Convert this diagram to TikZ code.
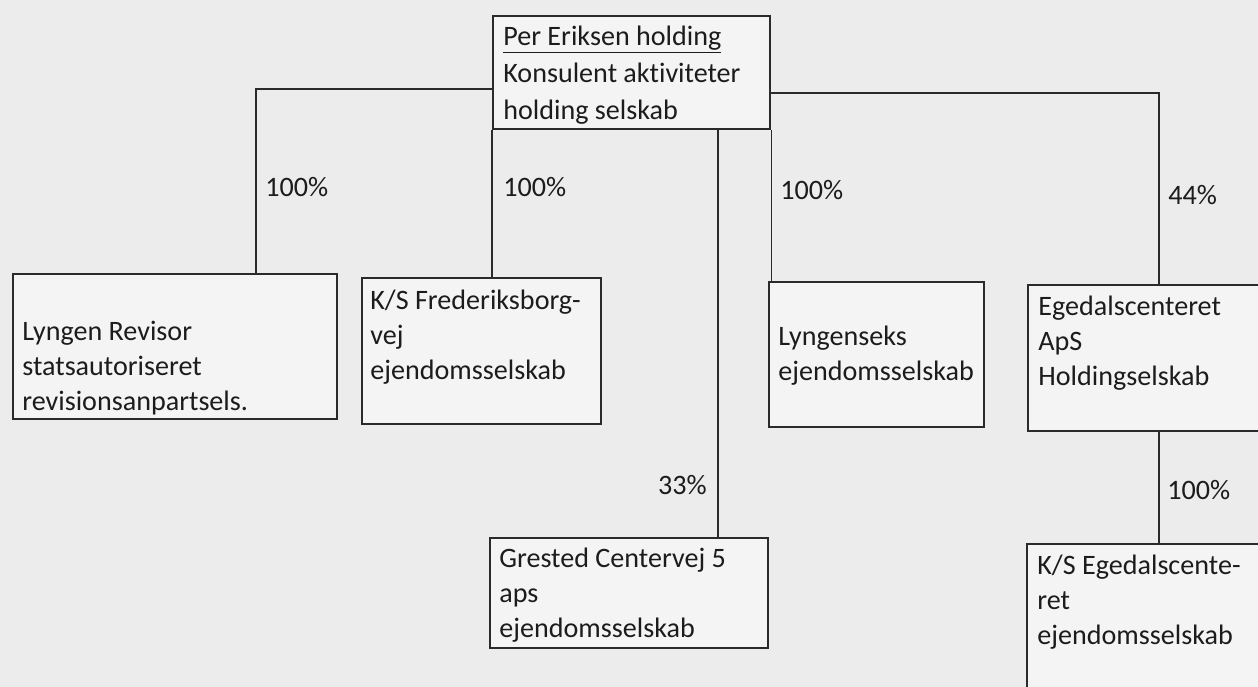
\documentclass[tikz,border=0pt]{standalone}
\usepackage{fontspec}
\setmainfont{Carlito}[Ligatures=NoCommon]
\usepackage{tikz}
\usetikzlibrary{positioning,calc}
\definecolor{paper}{RGB}{236,236,236}
\definecolor{boxfill}{RGB}{244,244,244}
\definecolor{inkline}{RGB}{42,42,42}
\definecolor{inkc}{RGB}{28,28,28}

\begin{document}
\begin{tikzpicture}[
  firm/.style={draw=inkline, fill=boxfill, line width=1.4pt, anchor=north west, inner sep=0pt},
  ftext/.style={anchor=west, align=left, text=inkc, inner sep=0pt, font=\fontsize{16}{20}\selectfont},
  pct/.style={anchor=west, text=inkc, inner sep=0pt, font=\fontsize{16}{20}\selectfont},
  link/.style={draw=inkline, line width=0.8pt},
]
\useasboundingbox (0,0) rectangle (25.16,-13.74);
\clip (0,0) rectangle (25.16,-13.74);
\fill[paper] (0,0) rectangle (25.16,-13.74);

% ============ owner ============
\node[firm, minimum width=5.54cm, minimum height=2.26cm] (per) at (9.84,-0.30) {};
\node[ftext, font=\fontsize{16}{21}\selectfont] (per-txt) at (10.06,-1.50)
  {\underline{Per Eriksen holding}\\Konsulent aktiviteter\\holding selskab};

% ============ companies ============
\node[firm, minimum width=6.48cm, minimum height=2.90cm] (lyngen) at (0.24,-5.46) {};
\node[ftext] (lyngen-txt) at (0.44,-7.36) {Lyngen Revisor\\statsautoriseret\\revisionsanpartsels.};

\node[firm, minimum width=4.78cm, minimum height=2.92cm] (fred) at (7.22,-5.54) {};
\node[ftext] (fred-txt) at (7.40,-6.74) {K/S Frederiksborg-\\vej\\ejendomsselskab};

\node[firm, minimum width=5.56cm, minimum height=2.20cm] (grested) at (9.78,-10.74) {};
\node[ftext] (grested-txt) at (9.98,-11.90) {Grested Centervej 5\\aps\\ejendomsselskab};

\node[firm, minimum width=4.30cm, minimum height=2.90cm] (lyngseks) at (15.36,-5.62) {};
\node[ftext] (lyngseks-txt) at (15.56,-7.12) {Lyngenseks\\ejendomsselskab};

\node[firm, minimum width=5.20cm, minimum height=2.92cm] (ege) at (20.54,-5.68) {};
\node[ftext] (ege-txt) at (20.76,-6.86) {Egedalscenteret\\ApS\\Holdingselskab};

\node[firm, minimum width=5.20cm, minimum height=3.60cm] (ksege) at (20.52,-10.86) {};
\node[ftext] (ksege-txt) at (20.74,-12.04) {K/S Egedalscente-\\ret\\ejendomsselskab};

% ============ ownership lines ============
\coordinate (jl) at (5.12,-1.78);
\coordinate (jr) at (23.18,-1.86);
\coordinate (c33) at (14.36,0);

\draw[link] (per.west |- jl) -| (lyngen.north -| jl);
\draw[link] (per.south west) -- (fred.north -| per.south west);
\draw[link] (per.south -| c33) -- (grested.north -| c33);
\draw[link] (per.south east) -- (lyngseks.north -| per.south east);
\draw[link] (per.east |- jr) -| (ege.north -| jr);
\draw[link] (ege.south -| jr) -- (ksege.north -| jr);

% shares
\node[pct] (p-lyngen) at (5.30,-3.74) {100\%};
\node[pct] (p-fred) at (10.06,-3.74) {100\%};
\node[pct, anchor=east] (p-grested) at (14.14,-9.70) {33\%};
\node[pct] (p-lyngseks) at (15.60,-3.80) {100\%};
\node[pct] (p-ege) at (23.36,-3.90) {44\%};
\node[pct] (p-ksege) at (23.34,-9.80) {100\%};
\end{tikzpicture}
\end{document}
